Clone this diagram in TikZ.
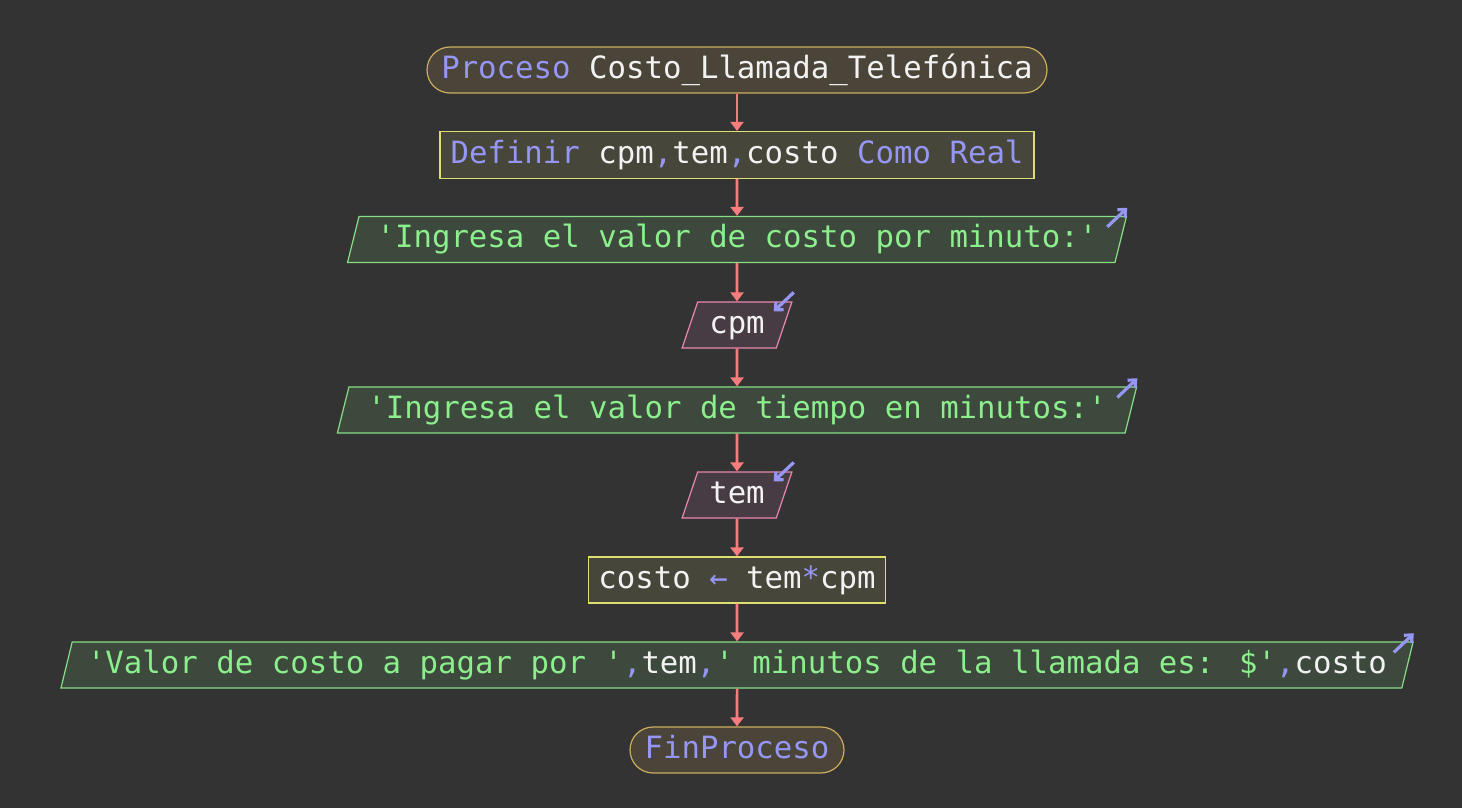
\documentclass[tikz,border=0pt]{standalone}
\usepackage{fontspec}
\newfontfamily\codefont{DejaVu Sans Mono}
\usetikzlibrary{shapes.geometric,shapes.misc,arrows.meta}
\definecolor{bg}{HTML}{333333}
\definecolor{termfill}{RGB}{74,69,56}
\definecolor{termline}{RGB}{205,172,95}
\definecolor{procfill}{RGB}{70,70,58}
\definecolor{procline}{RGB}{222,222,115}
\definecolor{outfill}{RGB}{60,73,60}
\definecolor{outline}{RGB}{135,222,135}
\definecolor{infill}{RGB}{72,60,68}
\definecolor{inline}{RGB}{232,135,175}
\definecolor{kwcol}{RGB}{150,150,245}
\definecolor{txcol}{RGB}{242,242,242}
\definecolor{strcol}{RGB}{140,238,140}
\definecolor{flowcol}{RGB}{245,125,125}
\newcommand{\kw}[1]{\textcolor{kwcol}{#1}}
\newcommand{\tx}[1]{\textcolor{txcol}{#1}}
\newcommand{\str}[1]{\textcolor{strcol}{#1}}
\newcommand{\q}{\textquotesingle}
\begin{document}
\begin{tikzpicture}[x=1pt,y=-1pt,
  font=\codefont\fontsize{30.7}{36}\selectfont,
  every node/.style={inner sep=0pt, line width=1.2pt, text height=22pt, text depth=6pt},
  term/.style={rounded rectangle, draw=termline, fill=termfill, minimum height=46},
  proc/.style={rectangle, draw=procline, fill=procfill, minimum height=47},
  io/.style={trapezium, trapezium left angle=68.6, trapezium right angle=111.4,
    trapezium stretches=true, minimum height=46},
  outbox/.style={io, draw=outline, fill=outfill},
  inbox/.style={io, draw=inline, fill=infill},
  flow/.style={draw=flowcol, line width=2.7pt, -{Triangle[length=9pt,width=13pt]}},
  icon/.style={draw=kwcol, line width=3.2pt, -{Straight Barb[length=6pt,width=11pt]}}]

\fill[bg] (0,0) rectangle (1462,808);
\useasboundingbox (0,0) rectangle (1462,808);

% flowchart steps
\node[term, minimum width=620] (n1) at (737,70)
  {\kw{Proceso} \tx{Costo\_Llamada\_Telefónica}};
\node[proc, minimum width=594] (n2) at (737,155)
  {\kw{Definir} \tx{cpm}\kw{,}\tx{tem}\kw{,}\tx{costo} \kw{Como Real}};
\node[outbox, minimum width=781] (n3) at (737,239.5)
  {\str{\q Ingresa el valor de costo por minuto:\q}};
\node[inbox, minimum width=110] (n4) at (737,325) {\tx{cpm}};
\node[outbox, minimum width=800] (n5) at (737,410)
  {\str{\q Ingresa el valor de tiempo en minutos:\q}};
\node[inbox, minimum width=110] (n6) at (737,495) {\tx{tem}};
\node[proc, minimum width=297, minimum height=46] (n7) at (737,580)
  {\tx{costo} \kw{←} \tx{tem}\kw{*}\tx{cpm}};
\node[outbox, minimum width=1368] (n8) at (737,665)
  {\str{\q Valor de costo a pagar por \q}\kw{,}\tx{tem}\kw{,}\str{\q{} minutos de la llamada es: \$\q}\kw{,}\tx{costo}};
\node[term, minimum width=214] (n9) at (737,750) {\kw{FinProceso}};

% connectors
\draw[flow] (n1.south) -- (n2.north);
\draw[flow] (n2.south) -- (n3.north);
\draw[flow] (n3.south) -- (n4.north);
\draw[flow] (n4.south) -- (n5.north);
\draw[flow] (n5.south) -- (n6.north);
\draw[flow] (n6.south) -- (n7.north);
\draw[flow] (n7.south) -- (n8.north);
\draw[flow] (n8.south) -- (n9.north);

% output / input markers
\foreach \n in {n3,n5,n8}
  \draw[icon] ([shift={(-20,11)}]\n.top right corner) -- ([shift={(0,-8)}]\n.top right corner);
\foreach \n in {n4,n6}
  \draw[icon] ([shift={(1,-9)}]\n.top right corner) -- ([shift={(-19,10)}]\n.top right corner);
\end{tikzpicture}
\end{document}
